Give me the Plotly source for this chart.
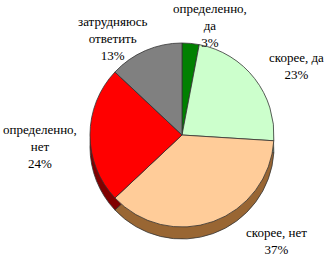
import plotly.graph_objects as go

categories = ["определенно,<br>да", "скорее, да", "скорее, нет", "определенно,<br>нет", "затрудняюсь<br>ответить"]
values = [3, 23, 37, 24, 13]
colors = ["#008000", "#CCFFCC", "#FFCC99", "#FF0000", "#808080"]
side_colors = ["#004000", "#7A997A", "#996633", "#800000", "#404040"]
# label anchor positions in pixels (layout only)
label_pos = [(210, 25), (296, 66), (276, 241), (40, 146), (112, 38)]

W, H = 330, 259
R = 92
CX, CY = 182, 135
DEPTH = 12


def dom(cx, cy, r):
    return dict(x=[(cx - r) / W, (cx + r) / W], y=[1 - (cy + r) / H, 1 - (cy - r) / H])


fig = go.Figure()
fig.add_trace(go.Pie(
    values=values, labels=categories, sort=False, direction="clockwise", rotation=0,
    marker=dict(colors=side_colors, line=dict(color="#333333", width=0.8)),
    textinfo="none", hoverinfo="skip", domain=dom(CX, CY + DEPTH, R), showlegend=False,
))
fig.add_trace(go.Pie(
    values=values, labels=categories, sort=False, direction="clockwise", rotation=0,
    marker=dict(colors=colors, line=dict(color="#333333", width=0.8)),
    textinfo="none", domain=dom(CX, CY, R), showlegend=False,
))

for cat, v, (px, py) in zip(categories, values, label_pos):
    fig.add_annotation(
        x=px / W, y=1 - py / H, xref="paper", yref="paper", showarrow=False,
        xanchor="center", yanchor="middle",
        text=f"{cat}<br>{v}%", align="center",
        font=dict(family="Liberation Serif", size=13, color="black"),
    )

fig.update_layout(
    width=W, height=H, margin=dict(l=0, r=0, t=0, b=0),
    paper_bgcolor="white", plot_bgcolor="white",
)
fig.write_html("out.html")
